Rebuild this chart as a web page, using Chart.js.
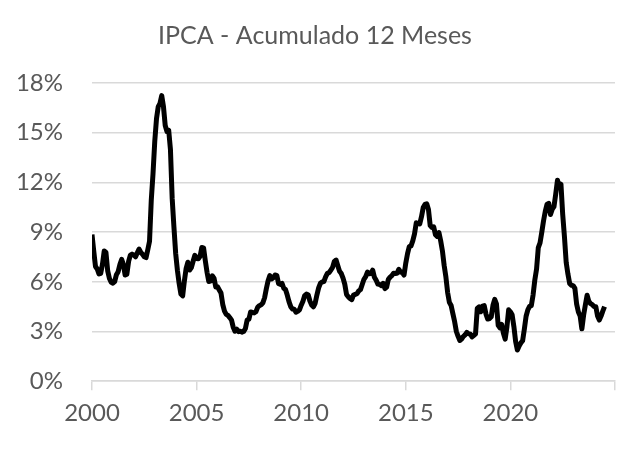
<!DOCTYPE html>
<html>
<head>
<meta charset="utf-8">
<script src="https://cdn.jsdelivr.net/npm/chart.js@4"></script>
<style>
  body { margin: 0; background: #fff; }
</style>
</head>
<body>
<canvas id="chart1" width="638" height="450"></canvas>
<script>
// IPCA acumulado 12 meses, mensal, a partir de jan/2000
const startYear = 2000;
const ipca = [
    8.85, 7.86, 6.92, 6.77, 6.47, 6.51, 7.06, 7.86, 7.77, 6.66, 6.20, 5.97,   // 2000
    5.92, 6.01, 6.43, 6.61, 7.04, 7.35, 7.06, 6.41, 6.46, 7.23, 7.61, 7.67,   // 2001
    7.62, 7.51, 7.75, 7.98, 7.77, 7.66, 7.51, 7.46, 7.93, 8.45, 10.93, 12.53, // 2002
    14.47, 15.85, 16.57, 16.77, 17.24, 16.57, 15.43, 15.07, 15.14, 13.98, 11.02, 9.30, // 2003
    7.71, 6.69, 5.89, 5.26, 5.15, 6.06, 6.81, 7.18, 6.71, 6.86, 7.24, 7.60,   // 2004
    7.41, 7.39, 7.54, 8.07, 8.05, 7.27, 6.57, 6.02, 6.04, 6.36, 6.22, 5.69,   // 2005
    5.70, 5.51, 5.32, 4.63, 4.23, 4.03, 3.97, 3.84, 3.70, 3.26, 3.02, 3.14,   // 2006
    2.99, 3.02, 2.96, 3.00, 3.18, 3.69, 3.74, 4.18, 4.15, 4.12, 4.19, 4.46,   // 2007
    4.56, 4.61, 4.73, 5.04, 5.58, 6.06, 6.37, 6.17, 6.25, 6.41, 6.39, 5.90,   // 2008
    5.84, 5.90, 5.61, 5.53, 5.20, 4.80, 4.50, 4.36, 4.34, 4.17, 4.22, 4.31,   // 2009
    4.59, 4.83, 5.17, 5.26, 5.22, 4.84, 4.60, 4.49, 4.70, 5.20, 5.63, 5.91,   // 2010
    5.99, 6.01, 6.30, 6.51, 6.55, 6.71, 6.87, 7.23, 7.31, 6.97, 6.64, 6.50,   // 2011
    6.22, 5.85, 5.24, 5.10, 4.99, 4.92, 5.20, 5.24, 5.28, 5.45, 5.53, 5.84,   // 2012
    6.15, 6.31, 6.59, 6.49, 6.50, 6.70, 6.27, 6.09, 5.86, 5.84, 5.77, 5.91,   // 2013
    5.59, 5.68, 6.15, 6.28, 6.37, 6.52, 6.50, 6.51, 6.75, 6.59, 6.56, 6.41,   // 2014
    7.14, 7.70, 8.13, 8.17, 8.47, 8.89, 9.56, 9.53, 9.49, 9.93, 10.48, 10.67, // 2015
    10.71, 10.36, 9.39, 9.28, 9.32, 8.84, 8.74, 8.97, 8.48, 7.87, 6.99, 6.29, // 2016
    5.35, 4.76, 4.57, 4.08, 3.60, 3.00, 2.71, 2.46, 2.54, 2.70, 2.80, 2.95,   // 2017
    2.86, 2.84, 2.68, 2.76, 2.86, 4.39, 4.48, 4.19, 4.53, 4.56, 4.05, 3.75,   // 2018
    3.78, 3.89, 4.58, 4.94, 4.66, 3.37, 3.22, 3.43, 2.89, 2.54, 3.27, 4.31,   // 2019
    4.19, 4.01, 3.30, 2.40, 1.88, 2.13, 2.31, 2.44, 3.14, 3.92, 4.31, 4.52,   // 2020
    4.56, 5.20, 6.10, 6.76, 8.06, 8.35, 8.99, 9.68, 10.25, 10.67, 10.74, 10.06, // 2021
    10.38, 10.54, 11.30, 12.13, 11.73, 11.89, 10.07, 8.73, 7.17, 6.47, 5.90, 5.79, // 2022
    5.77, 5.60, 4.65, 4.18, 3.94, 3.16, 3.99, 4.61, 5.19, 4.82, 4.68, 4.62,   // 2023
    4.51, 4.50, 3.93, 3.69, 3.93, 4.23, 4.50                                  // 2024
];
const xTickYears = [2000, 2005, 2010, 2015, 2020];
const xAxisEnd = 2025;
const yTicks = [0, 3, 6, 9, 12, 15, 18];

const points = ipca.map((v, i) => ({ x: startYear + i / 12, y: v }));

const textColor = '#595959';
const gridColor = '#d9d9d9';
const font = { family: 'Lato', size: 24 };

new Chart(document.getElementById('chart1'), {
    type: 'line',
    data: {
        datasets: [{
            label: 'IPCA 12m',
            data: points,
            borderColor: '#000',
            borderWidth: 5,
            borderJoinStyle: 'round',
            pointRadius: 0,
            tension: 0,
            fill: false
        }]
    },
    options: {
        responsive: false,
        animation: false,
        layout: { padding: { left: 15, right: 23, top: 0, bottom: 13 } },
        plugins: {
            legend: { display: false },
            tooltip: { enabled: false },
            title: {
                display: true,
                text: 'IPCA - Acumulado 12 Meses',
                color: textColor,
                font: { family: 'Lato', size: 25, weight: 'normal' },
                padding: { top: 21, bottom: 32 }
            }
        },
        scales: {
            x: {
                type: 'linear',
                min: startYear,
                max: xAxisEnd,
                afterBuildTicks: s => { s.ticks = [...xTickYears, xAxisEnd].map(v => ({ value: v })); },
                ticks: {
                    color: textColor,
                    font: font,
                    padding: 9,
                    maxRotation: 0,
                    callback: v => xTickYears.includes(v) ? String(v) : ''
                },
                grid: { drawOnChartArea: false, drawTicks: true, tickLength: 9, color: gridColor, lineWidth: 1.5 },
                border: { display: true, color: gridColor, width: 1.5 }
            },
            y: {
                min: 0,
                max: 18,
                afterBuildTicks: s => { s.ticks = yTicks.map(v => ({ value: v })); },
                afterFit: s => { s.width = 77; },
                ticks: {
                    color: textColor,
                    font: font,
                    padding: 29,
                    callback: v => v + '%'
                },
                grid: { drawTicks: false, color: gridColor, lineWidth: 1.5 },
                border: { display: false }
            }
        }
    }
});
</script>
</body>
</html>
